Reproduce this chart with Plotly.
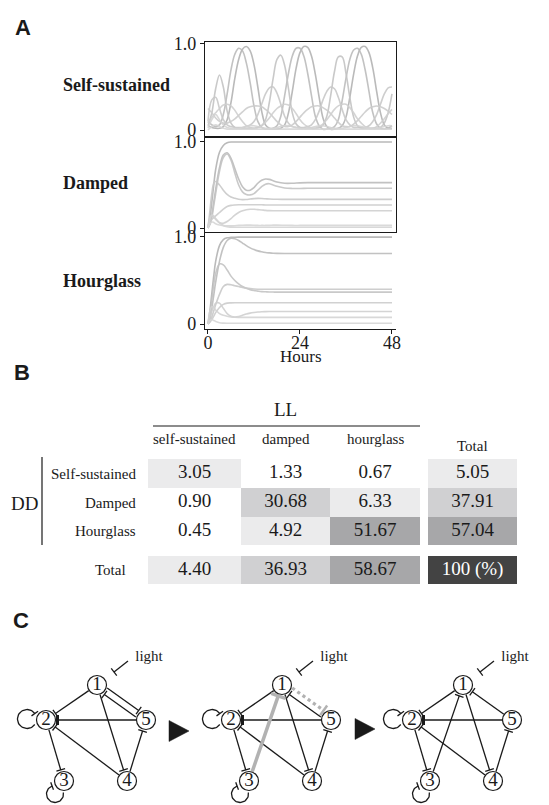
import numpy as np
import plotly.graph_objects as go

# The page body adds an 8px margin; the figure is sized to fit the 549x805 window after it,
# and all layout coordinates below are given in window pixels.
PAGE_OFF = 8
WIN_W, WIN_H = 549, 805
FIG_W, FIG_H = WIN_W - PAGE_OFF, WIN_H - PAGE_OFF
SERIF = "Liberation Serif"
SANS = "Liberation Sans"
INK = "#1a1a1a"

def px_x(x):
    return (x - PAGE_OFF) / FIG_W

def px_y(y):
    return 1 - (y - PAGE_OFF) / FIG_H

# ---------------- Panel A data (fraction of max) ----------------
hours_ss = list(range(0, 49))
ss_1 = [0.05, 0.03, 0.02, 0.02, 0.04, 0.12, 0.32, 0.6, 0.82, 0.94,
        0.97, 0.92, 0.76, 0.5, 0.22, 0.06, 0.02, 0.01, 0.01, 0.02,
        0.06, 0.2, 0.45, 0.72, 0.9, 0.97, 0.96, 0.86, 0.65, 0.38,
        0.14, 0.04, 0.01, 0.01, 0.02, 0.05, 0.15, 0.38, 0.65, 0.86,
        0.96, 0.97, 0.9, 0.72, 0.45, 0.2, 0.06, 0.02, 0.02]
ss_2 = [0.1, 0.06, 0.04, 0.06, 0.18, 0.42, 0.7, 0.88, 0.95, 0.92,
        0.78, 0.55, 0.28, 0.1, 0.03, 0.01, 0.01, 0.02, 0.05, 0.16,
        0.4, 0.66, 0.86, 0.95, 0.95, 0.86, 0.66, 0.4, 0.16, 0.05,
        0.01, 0.01, 0.02, 0.04, 0.12, 0.34, 0.6, 0.82, 0.93, 0.95,
        0.88, 0.7, 0.45, 0.2, 0.07, 0.02, 0.01, 0.02, 0.05]
ss_3 = [0.05, 0.2, 0.48, 0.64, 0.5, 0.22, 0.08, 0.03, 0.02, 0.02,
        0.02, 0.02, 0.02, 0.03, 0.05, 0.12, 0.32, 0.6, 0.82, 0.87,
        0.75, 0.48, 0.2, 0.07, 0.03, 0.02, 0.02, 0.02, 0.02, 0.03,
        0.06, 0.16, 0.4, 0.68, 0.85, 0.85, 0.66, 0.38, 0.15, 0.05,
        0.02, 0.02, 0.02, 0.02, 0.02, 0.03, 0.08, 0.2, 0.42]
ss_4 = [0.1, 0.35, 0.38, 0.25, 0.12, 0.06, 0.04, 0.03, 0.03, 0.03,
        0.04, 0.06, 0.1, 0.18, 0.3, 0.42, 0.49, 0.5, 0.43, 0.3,
        0.16, 0.08, 0.04, 0.03, 0.03, 0.03, 0.04, 0.06, 0.12, 0.22,
        0.35, 0.45, 0.5, 0.48, 0.38, 0.24, 0.12, 0.06, 0.03, 0.03,
        0.03, 0.03, 0.05, 0.1, 0.18, 0.3, 0.42, 0.49, 0.5]
ss_5 = [0.25, 0.2, 0.14, 0.1, 0.08, 0.08, 0.1, 0.13, 0.17, 0.21,
        0.25, 0.27, 0.28, 0.28, 0.27, 0.24, 0.2, 0.15, 0.1, 0.06,
        0.04, 0.04, 0.06, 0.1, 0.15, 0.2, 0.24, 0.27, 0.28, 0.28,
        0.26, 0.23, 0.19, 0.14, 0.09, 0.05, 0.04, 0.04, 0.07, 0.11,
        0.16, 0.21, 0.25, 0.27, 0.28, 0.27, 0.25, 0.22, 0.18]
ss_6 = [0.08, 0.15, 0.2, 0.25, 0.29, 0.3, 0.28, 0.23, 0.16, 0.1,
        0.05, 0.03, 0.02, 0.03, 0.05, 0.09, 0.14, 0.2, 0.25, 0.28,
        0.3, 0.29, 0.25, 0.19, 0.12, 0.07, 0.04, 0.02, 0.02, 0.04,
        0.07, 0.12, 0.18, 0.24, 0.28, 0.3, 0.3, 0.26, 0.2, 0.13,
        0.08, 0.04, 0.02, 0.02, 0.04, 0.08, 0.13, 0.19, 0.24]
ss_7 = [0.02, 0.12, 0.18, 0.12, 0.06, 0.03, 0.02, 0.02, 0.02, 0.03,
        0.04, 0.05, 0.05, 0.04, 0.03, 0.02, 0.02, 0.02, 0.03, 0.04,
        0.05, 0.05, 0.04, 0.03, 0.02, 0.02, 0.02, 0.03, 0.04, 0.05,
        0.05, 0.04, 0.03, 0.02, 0.02, 0.02, 0.03, 0.04, 0.05, 0.05,
        0.04, 0.03, 0.02, 0.02, 0.02, 0.03, 0.04, 0.05, 0.05]
ss_8 = [0.0, 0.04, 0.06, 0.04, 0.02, 0.01, 0.01, 0.01, 0.01, 0.01,
        0.01, 0.01, 0.01, 0.01, 0.01, 0.01, 0.01, 0.01, 0.01, 0.01,
        0.01, 0.01, 0.01, 0.01, 0.01, 0.01, 0.01, 0.01, 0.01, 0.01,
        0.01, 0.01, 0.01, 0.01, 0.01, 0.01, 0.01, 0.01, 0.01, 0.01,
        0.01, 0.01, 0.01, 0.01, 0.01, 0.01, 0.01, 0.01, 0.01]

hours_dh = [0, 0.5, 1, 1.5, 2, 3, 4, 5, 6, 7, 8, 9, 10, 11, 12, 13, 14, 15,
            16, 17, 18, 20, 22, 24, 26, 28, 30, 36, 42, 48]
dp_1 = [0, 0.12, 0.3, 0.5, 0.68, 0.88, 0.96, 0.99, 1.0, 1.0, 1.0, 1.0, 1.0, 1.0, 1.0,
        1.0, 1.0, 1.0, 1.0, 1.0, 1.0, 1.0, 1.0, 1.0, 1.0, 1.0, 1.0, 1.0, 1.0, 1.0]
dp_2 = [0, 0.05, 0.15, 0.3, 0.45, 0.7, 0.85, 0.875, 0.81, 0.69, 0.57, 0.48, 0.44, 0.44, 0.47,
        0.52, 0.555, 0.57, 0.565, 0.55, 0.535, 0.52, 0.52, 0.525, 0.527, 0.527, 0.527, 0.527, 0.527, 0.527]
dp_3 = [0, 0.04, 0.12, 0.26, 0.4, 0.66, 0.82, 0.86, 0.79, 0.64, 0.5, 0.42, 0.39, 0.385, 0.4,
        0.44, 0.48, 0.51, 0.515, 0.5, 0.485, 0.465, 0.46, 0.46, 0.462, 0.462, 0.462, 0.462, 0.462, 0.462]
dp_4 = [0, 0.2, 0.4, 0.52, 0.54, 0.5, 0.44, 0.39, 0.36, 0.345, 0.335, 0.33, 0.332, 0.337, 0.342,
        0.344, 0.343, 0.34, 0.337, 0.335, 0.334, 0.333, 0.333, 0.333, 0.333, 0.333, 0.333, 0.333, 0.333, 0.333]
dp_5 = [0, 0.06, 0.1, 0.12, 0.14, 0.18, 0.22, 0.25, 0.263, 0.268, 0.27, 0.27, 0.27, 0.27, 0.27,
        0.27, 0.27, 0.268, 0.268, 0.268, 0.268, 0.268, 0.268, 0.268, 0.268, 0.268, 0.268, 0.268, 0.268, 0.268]
dp_6 = [0, 0.12, 0.15, 0.13, 0.1, 0.06, 0.055, 0.075, 0.11, 0.15, 0.18, 0.2, 0.213, 0.218, 0.218,
        0.214, 0.21, 0.205, 0.202, 0.2, 0.2, 0.2, 0.2, 0.2, 0.2, 0.2, 0.2, 0.2, 0.2, 0.2]
dp_7 = [0, 0.1, 0.15, 0.14, 0.11, 0.06, 0.03, 0.015, 0.01, 0.008, 0.008, 0.008, 0.008, 0.008, 0.008,
        0.008, 0.008, 0.008, 0.008, 0.008, 0.008, 0.008, 0.008, 0.008, 0.008, 0.008, 0.008, 0.008, 0.008, 0.008]
dp_8 = [0, 0.05, 0.07, 0.065, 0.05, 0.035, 0.028, 0.025, 0.025, 0.027, 0.03, 0.032, 0.033, 0.033, 0.032,
        0.03, 0.03, 0.03, 0.031, 0.033, 0.034, 0.032, 0.03, 0.03, 0.03, 0.03, 0.03, 0.03, 0.03, 0.03]

hg_1 = [0, 0.15, 0.35, 0.55, 0.72, 0.9, 0.97, 0.99, 0.995, 0.997, 0.998, 0.998, 0.998, 0.998, 0.998,
        0.998, 0.998, 0.998, 0.998, 0.998, 0.998, 0.998, 0.998, 0.998, 0.998, 0.998, 0.998, 0.998, 0.998, 0.998]
hg_2 = [0, 0.06, 0.18, 0.33, 0.48, 0.72, 0.88, 0.96, 0.985, 0.98, 0.96, 0.93, 0.9, 0.875, 0.855,
        0.84, 0.83, 0.822, 0.817, 0.813, 0.811, 0.81, 0.81, 0.81, 0.81, 0.81, 0.81, 0.81, 0.81, 0.81]
hg_3 = [0, 0.1, 0.28, 0.45, 0.58, 0.69, 0.68, 0.62, 0.55, 0.5, 0.46, 0.43, 0.41, 0.395, 0.385,
        0.378, 0.372, 0.37, 0.368, 0.367, 0.366, 0.366, 0.366, 0.366, 0.366, 0.366, 0.366, 0.366, 0.366, 0.366]
hg_4 = [0, 0.03, 0.08, 0.15, 0.22, 0.34, 0.43, 0.455, 0.45, 0.44, 0.43, 0.42, 0.412, 0.406, 0.402,
        0.4, 0.4, 0.4, 0.4, 0.4, 0.4, 0.4, 0.4, 0.4, 0.4, 0.4, 0.4, 0.4, 0.4, 0.4]
hg_5 = [0, 0.02, 0.05, 0.09, 0.13, 0.19, 0.225, 0.24, 0.243, 0.244, 0.244, 0.244, 0.244, 0.244, 0.244,
        0.244, 0.244, 0.244, 0.244, 0.244, 0.244, 0.244, 0.244, 0.244, 0.244, 0.244, 0.244, 0.244, 0.244, 0.244]
hg_6 = [0, 0.08, 0.15, 0.2, 0.24, 0.24, 0.18, 0.12, 0.09, 0.08, 0.085, 0.1, 0.115, 0.125, 0.132,
        0.137, 0.14, 0.142, 0.143, 0.143, 0.143, 0.143, 0.143, 0.143, 0.143, 0.143, 0.143, 0.143, 0.143, 0.143]
hg_7 = [0, 0.15, 0.2, 0.19, 0.16, 0.12, 0.1, 0.09, 0.082, 0.078, 0.076, 0.076, 0.076, 0.076, 0.076,
        0.076, 0.076, 0.076, 0.076, 0.076, 0.076, 0.076, 0.076, 0.076, 0.076, 0.076, 0.076, 0.076, 0.076, 0.076]
hg_8 = [0, 0.04, 0.05, 0.04, 0.03, 0.015, 0.01, 0.008, 0.008, 0.008, 0.008, 0.008, 0.008, 0.008, 0.008,
        0.008, 0.008, 0.008, 0.008, 0.008, 0.008, 0.008, 0.008, 0.008, 0.008, 0.008, 0.008, 0.008, 0.008, 0.008]

ss_series = [ss_1, ss_2, ss_3, ss_4, ss_5, ss_6, ss_7, ss_8]
dp_series = [dp_1, dp_2, dp_3, dp_4, dp_5, dp_6, dp_7, dp_8]
hg_series = [hg_1, hg_2, hg_3, hg_4, hg_5, hg_6, hg_7, hg_8]
row_names_A = ["Self-sustained", "Damped", "Hourglass"]
line_greys = ["#b3b3b3", "#bcbcbc", "#c4c4c4", "#c9c9c9", "#cdcdcd", "#d0d0d0", "#d4d4d4", "#d7d7d7"]

# ---------------- Panel B data (%) ----------------
ll_cols = ["self-sustained", "damped", "hourglass"]
dd_rows = ["Self-sustained", "Damped", "Hourglass"]
pct = [[3.05, 1.33, 0.67],
       [0.90, 30.68, 6.33],
       [0.45, 4.92, 51.67]]
row_total = [5.05, 37.91, 57.04]
col_total = [4.40, 36.93, 58.67]
grand_total = 100

# ---------------- Panel C data (networks) ----------------
node_ids = [1, 2, 3, 4, 5]
# edges: (source, target, style, parallel offset)
net_edges = [
    [(1, 2, "inh", 0), (1, 5, "inh", -3.5), (5, 1, "inh", -3.5), (1, 4, "inh", 0),
     (5, 2, "inh_bold", 0), (4, 2, "inh", 0), (2, 3, "inh", 0), (4, 5, "inh", 0)],
    [(1, 2, "inh", 0), (1, 5, "removed", -3.5), (5, 1, "inh", -3.5), (1, 4, "inh", 0),
     (3, 1, "added", 0), (5, 2, "inh_bold", 0), (4, 2, "inh", 0), (2, 3, "inh", 0), (4, 5, "inh", 0)],
    [(1, 2, "inh", 0), (5, 1, "inh", 0), (3, 1, "inh", 0), (1, 4, "inh", 0),
     (5, 2, "inh_bold", 0), (4, 2, "inh", 0), (2, 3, "inh", 0), (4, 5, "inh", 0)],
]
self_loops = [2, 3]

# ---------------- layout geometry (window pixels) ----------------
PX_L, PX_R = 205, 396
panel_px = [(42, 137), (137, 232), (232, 329)]
panel_yrange = [(-0.081, 1.023), (-0.0465, 1.058), (-0.0575, 1.057)]
xrange_A = [-0.78, 49.05]

col_edges = [148, 241, 330, 420, 428, 517]
row_edges = [459, 488, 517, 545, 556, 584]

node_offsets = {1: (0, 0), 2: (-51, 35), 5: (49, 35), 3: (-33, 96), 4: (30, 96)}
net_origins = [(97, 685), (282, 685), (463, 685)]
arrow_centers = [(179, 731), (365, 729)]
NODE_R = 9.5

fig = go.Figure()

# ---------------- Panel A ----------------
for k, (series, hrs) in enumerate([(ss_series, hours_ss), (dp_series, hours_dh), (hg_series, hours_dh)]):
    ax = "" if k == 0 else str(k + 1)
    for i, s in enumerate(series):
        fig.add_trace(go.Scatter(
            x=hrs, y=s, mode="lines", xaxis="x" + ax, yaxis="y" + ax,
            line=dict(color=line_greys[i], width=1.6, shape="spline", smoothing=1.0),
            opacity=0.9, hoverinfo="skip", showlegend=False))

axis_common = dict(showgrid=False, zeroline=False, showline=True, linecolor=INK, linewidth=1.2,
                   automargin=False)
layout_axes = {}
for k in range(3):
    sfx = "" if k == 0 else str(k + 1)
    top, bot = panel_px[k]
    layout_axes["xaxis" + sfx] = dict(
        domain=[px_x(PX_L), px_x(PX_R)], range=xrange_A, anchor="y" + sfx,
        mirror=(k < 2), showticklabels=(k == 2), ticks="outside" if k == 2 else "",
        tickvals=[0, 24, 48], ticklen=4, tickcolor=INK, ticklabelstandoff=-7,
        tickfont=dict(family=SERIF, size=18, color=INK), **axis_common)
    layout_axes["yaxis" + sfx] = dict(
        domain=[px_y(bot), px_y(top)], range=list(panel_yrange[k]), anchor="x" + sfx,
        mirror=(k < 2), tickvals=[0, 1], ticktext=["0", "1.0"], ticks="outside",
        ticklen=4, tickcolor=INK, tickfont=dict(family=SERIF, size=18, color=INK), **axis_common)

# canvas axis in window-pixel units for text, table and networks
layout_axes["xaxis4"] = dict(domain=[0, 1], range=[PAGE_OFF, WIN_W], anchor="y4", visible=False,
                             fixedrange=True, automargin=False)
layout_axes["yaxis4"] = dict(domain=[0, 1], range=[WIN_H, PAGE_OFF], anchor="x4", visible=False,
                             fixedrange=True, automargin=False)

annotations = []
def txt(x, y, s, size, family=SERIF, xanchor="center", color=INK):
    annotations.append(dict(x=x, y=y, xref="x4", yref="y4", text=s, showarrow=False,
                            xanchor=xanchor, yanchor="middle",
                            font=dict(family=family, size=size, color=color)))

txt(23, 27, "<b>A</b>", 22, SANS)
txt(22, 372, "<b>B</b>", 22, SANS)
txt(21, 620, "<b>C</b>", 22, SANS)
for name, yy in zip(row_names_A, [85, 183, 281]):
    txt(61, yy, "<b>" + name + "</b>", 18, xanchor="left")
txt(301, 356, "Hours", 17)

# ---------------- Panel B ----------------
z = []
for i in range(3):
    z.append(pct[i] + [None, row_total[i]])
z.append([None] * 5)
z.append(col_total + [None, grand_total])
shade = [[0.0, "#ffffff"], [0.02, "#ffffff"], [0.02, "#ebebec"], [0.2, "#ebebec"],
         [0.2, "#d0d0d2"], [0.45, "#d0d0d2"], [0.45, "#a7a7a9"], [0.8, "#a7a7a9"],
         [0.8, "#434343"], [1.0, "#434343"]]
fig.add_trace(go.Heatmap(x=col_edges, y=row_edges, z=z, zmin=0, zmax=100, colorscale=shade,
                         showscale=False, hoverinfo="skip", xaxis="x4", yaxis="y4", xgap=0, ygap=0))

col_c = [(col_edges[j] + col_edges[j + 1]) / 2 for j in range(5)]
row_c = [(row_edges[i] + row_edges[i + 1]) / 2 for i in range(5)]
tx, ty, tt, tc = [], [], [], []
for i in range(5):
    for j in range(5):
        v = z[i][j]
        if v is None:
            continue
        tx.append(col_c[j]); ty.append(row_c[i])
        tt.append("100 (%)" if v == grand_total else f"{v:.2f}")
        tc.append("#ffffff" if v == grand_total else INK)
fig.add_trace(go.Scatter(x=tx, y=ty, text=tt, mode="text", xaxis="x4", yaxis="y4",
                         textfont=dict(family=SERIF, size=19, color=tc),
                         hoverinfo="skip", showlegend=False))

txt((col_edges[0] + col_edges[3]) / 2 + 1, 409, "LL", 19)
for j, name in enumerate(ll_cols):
    txt(col_c[j], 439, name, 15)
txt(col_c[4], 446, "Total", 15)
for i, name in enumerate(dd_rows):
    txt(138, row_c[i], name, 15, xanchor="right")
txt(128, row_c[4], "Total", 15, xanchor="right")
txt(24, 503, "DD", 19)

shapes = [
    dict(type="line", xref="x4", yref="y4", x0=153, x1=420, y0=426, y1=426, line=dict(color=INK, width=1.2)),
    dict(type="line", xref="x4", yref="y4", x0=42, x1=42, y0=457, y1=545, line=dict(color=INK, width=1.2)),
]

# ---------------- Panel C ----------------
styles = {
    "inh": dict(color=INK, width=1.3, dash="solid", bar_w=1.3, bar_half=4.5, bar_color=INK),
    "inh_bold": dict(color=INK, width=1.3, dash="solid", bar_w=3.0, bar_half=5.0, bar_color=INK),
    "added": dict(color="#b2b2b2", width=3.5, dash="solid", bar_w=3.5, bar_half=7.5, bar_color="#b2b2b2"),
    "removed": dict(color="#b2b2b2", width=3.2, dash="dot", bar_w=2.5, bar_half=6.0, bar_color="#b2b2b2"),
}
groups = {}
def add_seg(key, pts):
    g = groups.setdefault(key, ([], []))
    for (x, y) in pts:
        g[0].append(x); g[1].append(y)
    g[0].append(None); g[1].append(None)

def inhibit(p, q, style, offset=0.0, r_src=NODE_R + 0.5, r_tgt=NODE_R + 2.0):
    p = np.asarray(p, float); q = np.asarray(q, float)
    d = q - p; u = d / np.hypot(*d); n = np.array([-u[1], u[0]])
    a = p + u * r_src + n * offset
    b = q - u * r_tgt + n * offset
    st = styles[style]
    add_seg(("line", style), [tuple(a), tuple(b)])
    h = st["bar_half"]
    add_seg(("bar", style), [tuple(b - n * h), tuple(b + n * h)])

loop_geom = {2: dict(dc=(-19, -1), R=9.5, th=(35, 325)),
             3: dict(dc=(-9, 13), R=8.5, th=(110, 370))}

node_x, node_y, node_t = [], [], []
light_x, light_y = [], []
for origin, edges in zip(net_origins, net_edges):
    pos = {k: (origin[0] + dx, origin[1] + dy) for k, (dx, dy) in node_offsets.items()}
    for (s, t, style, off) in edges:
        inhibit(pos[s], pos[t], style, off)
    p1 = pos[1]
    inhibit((p1[0] + 31, p1[1] - 24), (p1[0] + 17, p1[1] - 13), "inh", 0, r_src=0, r_tgt=0)
    light_x.append(p1[0] + 52); light_y.append(p1[1] - 28)
    for nd in self_loops:
        g = loop_geom[nd]
        cx, cy = pos[nd][0] + g["dc"][0], pos[nd][1] + g["dc"][1]
        th = np.radians(np.linspace(g["th"][0], g["th"][1], 40))
        add_seg(("line", "inh"), list(zip(cx + g["R"] * np.cos(th), cy - g["R"] * np.sin(th))))
        t0 = th[0]
        sx, sy = cx + g["R"] * np.cos(t0), cy - g["R"] * np.sin(t0)
        rx, ry = np.cos(t0), -np.sin(t0)
        add_seg(("bar", "inh"), [(sx - 4 * rx, sy - 4 * ry), (sx + 4 * rx, sy + 4 * ry)])
    for k in node_ids:
        node_x.append(pos[k][0]); node_y.append(pos[k][1]); node_t.append(str(k))

for (kind, style), (xs, ys) in groups.items():
    st = styles[style]
    if kind == "line":
        ln = dict(color=st["color"], width=st["width"], dash=st["dash"])
    else:
        ln = dict(color=st["bar_color"], width=st["bar_w"])
    fig.add_trace(go.Scatter(x=xs, y=ys, mode="lines", line=ln, xaxis="x4", yaxis="y4",
                             hoverinfo="skip", showlegend=False, connectgaps=False))

fig.add_trace(go.Scatter(x=node_x, y=node_y, text=node_t, mode="markers+text",
                         marker=dict(symbol="circle", size=2 * NODE_R, color="white",
                                     line=dict(color=INK, width=1.2)),
                         textposition="middle center",
                         textfont=dict(family=SERIF, size=19, color=INK),
                         xaxis="x4", yaxis="y4", hoverinfo="skip", showlegend=False))
fig.add_trace(go.Scatter(x=light_x, y=light_y, text=["light"] * len(light_x), mode="text",
                         textfont=dict(family=SERIF, size=15, color=INK),
                         xaxis="x4", yaxis="y4", hoverinfo="skip", showlegend=False))

for (cx, cy) in arrow_centers:
    shapes.append(dict(type="path", xref="x4", yref="y4",
                       path=f"M {cx-10},{cy-10.5} L {cx-10},{cy+10.5} L {cx+10},{cy} Z",
                       fillcolor=INK, line=dict(color=INK, width=0.5)))

fig.update_layout(template="none", width=FIG_W, height=FIG_H,
                  margin=dict(l=0, r=0, t=0, b=0, pad=0, autoexpand=False),
                  paper_bgcolor="white", plot_bgcolor="rgba(0,0,0,0)",
                  showlegend=False, annotations=annotations, shapes=shapes, **layout_axes)
fig.write_html("out.html")
